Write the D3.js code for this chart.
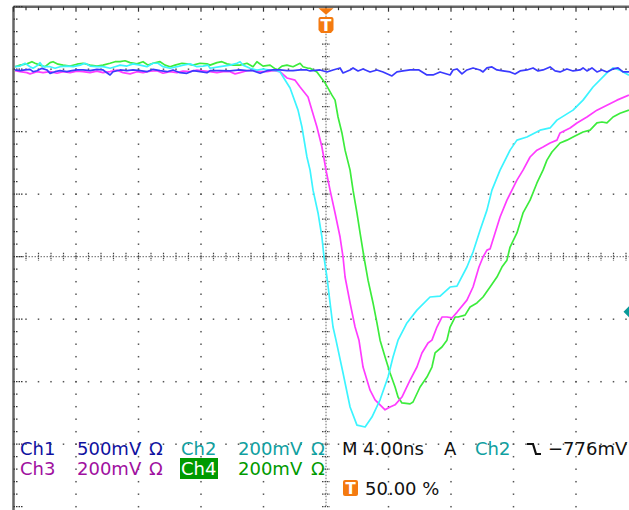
<!DOCTYPE html>
<html>
<head>
<meta charset="utf-8">
<script src="https://cdn.jsdelivr.net/npm/d3@7/dist/d3.min.js"></script>
<style>
  html, body { margin: 0; padding: 0; background: #fff; }
  svg { display: block; }
  text { font-family: "DejaVu Sans", sans-serif; font-size: 18px; }
</style>
</head>
<body>
<svg id="scope" width="629" height="510"></svg>
<script>
// Horizontal: 4 ns/div, 10 divisions, trigger at centre (t = 0)
const timePerDiv = 4;
// Vertical: volts per division for each channel, all traces positioned 3 div above centre
const channelNames = ["Ch1", "Ch2", "Ch3", "Ch4"];
const channelScalesMv = [500, 200, 200, 200];
const channelPositionDiv = 3;
const traceColors = ["#3a3aff", "#3cf4ff", "#ff3cff", "#3cec3c"];
const labelColors = ["#1010a0", "#10a0a0", "#a010a0", "#009a00"];
const triggerLevelMv = -776;

// Samples: [time (ns), voltage (mV)]
const ch1Trace = [[-19.90,-6],[-19.58,-12],[-19.26,-6],[-18.94,-1],[-18.75,-20],[-18.50,-12],[-18.18,7],[-17.86,-6],[-17.66,-33],[-17.34,-20],[-17.02,-12],[-16.58,-20],[-16.26,-12],[-15.94,-6],[-15.55,-6],[-15.10,-12],[-14.66,-1],[-14.27,-6],[-13.82,-46],[-13.63,-20],[-13.18,-6],[-12.74,-12],[-12.35,-6],[-11.90,-12],[-11.46,-20],[-11.07,-1],[-10.62,-12],[-10.18,-20],[-9.79,-6],[-9.34,-28],[-8.90,-33],[-8.51,-12],[-8.06,-20],[-7.62,-28],[-7.42,-12],[-6.78,-12],[-6.14,-14],[-5.50,-6],[-5.06,-12],[-4.67,-12],[-4.22,-33],[-3.78,-12],[-3.39,-6],[-2.94,-6],[-2.50,-12],[-2.11,-12],[-1.66,-6],[-1.22,-6],[-1.02,-14],[-0.38,-6],[0.06,-22],[0.45,-6],[0.90,10],[1.09,-30],[1.54,-6],[1.73,10],[2.05,-14],[2.37,2],[2.82,-22],[3.26,-6],[3.65,-22],[4.22,-54],[4.54,-22],[4.93,-14],[5.38,-6],[5.95,-6],[6.46,-46],[6.85,-46],[7.30,-22],[7.94,-46],[8.13,-6],[8.38,2],[8.70,-38],[9.02,-6],[9.41,10],[9.86,-6],[10.05,-22],[10.30,10],[10.62,18],[10.94,-6],[11.33,-14],[11.78,-22],[12.10,-38],[12.42,-14],[12.86,-6],[13.25,10],[13.57,-14],[13.89,-6],[14.34,18],[14.66,-14],[14.98,-22],[15.42,2],[15.81,-14],[16.26,-6],[16.45,10],[16.70,-14],[17.02,10],[17.34,-22],[17.66,-6],[17.98,-22],[18.37,2],[18.69,10],[19.01,-22],[19.39,-22]];

const ch2Trace = [[-19.90,8],[-19.58,10],[-19.26,19],[-18.94,8],[-18.75,3],[-18.43,13],[-18.30,21],[-18.11,8],[-17.66,8],[-17.34,3],[-17.02,8],[-16.58,10],[-16.19,8],[-15.74,13],[-15.42,19],[-15.10,10],[-14.66,8],[-14.27,8],[-13.82,3],[-13.50,8],[-13.18,13],[-12.74,10],[-12.35,17],[-11.90,13],[-11.46,8],[-11.07,19],[-10.75,19],[-10.43,8],[-9.98,3],[-9.54,8],[-9.15,13],[-8.70,17],[-8.26,8],[-7.87,10],[-7.55,13],[-7.42,3],[-6.78,8],[-6.14,13],[-5.70,19],[-5.50,24],[-5.31,13],[-4.86,3],[-4.42,-3],[-4.03,0],[-3.58,-3],[-3.14,-5],[-2.94,-9],[-2.30,-60],[-1.79,-131],[-1.54,-185],[-1.22,-281],[-1.02,-323],[-0.83,-387],[-0.51,-460],[-0.26,-537],[-0.13,-601],[0.06,-665],[0.26,-748],[0.45,-825],[0.64,-867],[1.09,-972],[1.54,-1081],[1.98,-1139],[2.50,-1145],[2.94,-1113],[3.46,-1058],[3.97,-985],[4.29,-921],[4.61,-867],[5.18,-812],[5.82,-771],[6.66,-729],[7.30,-726],[7.94,-697],[8.38,-694],[9.02,-633],[9.41,-585],[9.86,-515],[10.30,-451],[10.62,-387],[11.14,-323],[11.78,-259],[12.22,-227],[12.86,-217],[13.70,-195],[14.34,-188],[14.78,-163],[15.81,-131],[16.45,-99],[17.09,-57],[17.98,-12],[18.37,4],[18.82,-3],[19.39,-19]];

const ch3Trace = [[-19.90,-5],[-19.58,-8],[-19.14,-11],[-18.94,-15],[-18.50,-8],[-18.11,-11],[-17.66,-8],[-17.22,-13],[-16.83,-8],[-16.38,-11],[-15.94,-6],[-15.55,-8],[-15.10,-11],[-14.66,-6],[-14.27,-11],[-13.82,-8],[-13.38,-3],[-12.99,-11],[-12.54,-15],[-12.10,-8],[-11.71,-11],[-11.26,-6],[-10.82,-5],[-10.43,-13],[-9.98,-8],[-9.54,-11],[-9.15,-6],[-8.70,-8],[-8.26,-3],[-7.87,-5],[-7.42,-8],[-6.98,-11],[-6.59,-8],[-6.14,-8],[-5.82,-15],[-5.50,-11],[-5.06,-5],[-4.67,-3],[-4.22,-8],[-3.78,-8],[-3.39,-5],[-2.94,-8],[-2.50,-28],[-1.98,-35],[-1.66,-57],[-1.15,-89],[-0.90,-131],[-0.58,-185],[-0.26,-249],[0,-323],[0.26,-387],[0.58,-460],[0.90,-537],[1.09,-601],[1.22,-665],[1.54,-748],[1.86,-825],[2.11,-867],[2.37,-953],[2.82,-1027],[3.14,-1058],[3.46,-1074],[3.78,-1090],[4.10,-1081],[4.42,-1074],[4.86,-1049],[5.38,-995],[5.82,-953],[6.14,-908],[6.53,-876],[6.78,-867],[7.10,-825],[7.42,-793],[7.74,-793],[8.06,-796],[8.38,-778],[9.02,-739],[9.41,-697],[9.79,-633],[10.05,-601],[10.30,-579],[10.50,-575],[10.82,-524],[11.14,-473],[11.58,-419],[11.90,-387],[12.22,-355],[12.61,-323],[13.06,-281],[13.50,-259],[13.89,-249],[14.34,-236],[14.78,-227],[14.98,-204],[15.62,-188],[16.06,-172],[16.70,-153],[17.34,-131],[17.98,-115],[18.62,-99],[19.39,-83]];

const ch4Trace = [[-19.90,8],[-19.58,13],[-19.14,17],[-18.82,24],[-18.62,19],[-18.30,13],[-17.98,8],[-17.66,21],[-17.47,24],[-17.15,16],[-16.83,13],[-16.38,10],[-15.94,16],[-15.55,19],[-15.10,13],[-14.66,10],[-14.27,13],[-13.82,19],[-13.50,24],[-13.18,24],[-12.86,27],[-12.54,21],[-12.10,17],[-11.71,24],[-11.39,13],[-11.07,19],[-10.62,24],[-10.30,13],[-9.98,8],[-9.66,13],[-9.22,19],[-8.90,17],[-8.51,13],[-8.06,19],[-7.62,17],[-7.42,13],[-6.98,21],[-6.66,24],[-6.34,17],[-5.95,13],[-5.50,13],[-5.06,19],[-4.67,8],[-4.42,24],[-4.03,10],[-3.58,13],[-3.14,-3],[-2.82,10],[-2.50,13],[-2.11,8],[-1.66,19],[-1.47,8],[-1.15,3],[-1.02,3],[-0.58,-9],[-0.06,-44],[0.38,-83],[0.58,-99],[0.77,-153],[1.02,-204],[1.22,-259],[1.54,-323],[1.73,-387],[1.98,-460],[2.18,-524],[2.43,-601],[2.69,-675],[3.01,-748],[3.26,-812],[3.46,-867],[3.78,-921],[4.10,-972],[4.42,-1017],[4.61,-1049],[4.86,-1068],[5.38,-1071],[5.57,-1065],[6.02,-1017],[6.46,-985],[6.78,-953],[6.98,-908],[7.42,-889],[7.74,-867],[7.94,-825],[8.26,-793],[8.45,-793],[8.90,-787],[9.22,-761],[9.66,-748],[10.05,-729],[10.50,-697],[10.94,-665],[11.26,-633],[11.58,-611],[11.78,-569],[12.22,-524],[12.61,-460],[13.06,-419],[13.50,-364],[13.89,-323],[14.14,-291],[14.46,-265],[14.98,-236],[15.42,-227],[15.81,-217],[16.45,-201],[16.90,-195],[17.34,-172],[17.66,-169],[17.98,-172],[18.37,-153],[18.82,-141],[19.39,-131]];

const traces = [ch1Trace, ch2Trace, ch3Trace, ch4Trace];

// Readout text
const voltsLabels = ["500mV", "200mV", "200mV", "200mV"];
const timebaseLabel = "4.00ns";
const triggerSource = "Ch2";
const triggerLevelLabel = "\u2212776mV";
const triggerPositionLabel = "50.00 %";

// ---- Screen geometry ----
const svg = d3.select("#scope");
const plotLeft = 13.5, plotTop = 6.7, divPx = 62.5;
const plotRight = plotLeft + 10 * divPx, plotBottom = plotTop + 8 * divPx;

const x = d3.scaleLinear().domain([-5 * timePerDiv, 5 * timePerDiv]).range([plotLeft, plotRight]);
const yDiv = d3.scaleLinear().domain([-4, 4]).range([plotBottom, plotTop]);
const yFor = ch => v => yDiv(v / channelScalesMv[ch] + channelPositionDiv);

svg.append("defs").append("clipPath").attr("id", "plotClip")
  .append("rect").attr("x", plotLeft).attr("y", plotTop)
  .attr("width", plotRight - plotLeft).attr("height", plotBottom - plotTop);

// ---- Graticule ----
const grid = svg.append("g");
const minorStep = 0.2; // divisions
const minorsX = d3.range(-5, 5 + 1e-9, minorStep).map(d => +d.toFixed(2));
const minorsY = d3.range(-4, 4 + 1e-9, minorStep).map(d => +d.toFixed(2));
const divX = d => x(d * timePerDiv);

// dotted major lines
for (let i = -4; i <= 4; i++) {
  if (i === 0) continue;
  grid.selectAll(null).data(minorsY).enter().append("rect")
    .attr("x", divX(i) - 0.75).attr("y", d => yDiv(d) - 0.75)
    .attr("width", 1.5).attr("height", 1.5).attr("fill", "#555");
}
for (let j = -3; j <= 3; j++) {
  if (j === 0) continue;
  grid.selectAll(null).data(minorsX).enter().append("rect")
    .attr("x", d => divX(d) - 0.75).attr("y", yDiv(j) - 0.75)
    .attr("width", 1.5).attr("height", 1.5).attr("fill", "#555");
}
// centre crosshair with minor ticks
grid.append("line").attr("x1", plotLeft).attr("x2", plotRight)
  .attr("y1", yDiv(0)).attr("y2", yDiv(0))
  .attr("stroke", "#666").attr("stroke-width", 1).attr("stroke-dasharray", "1.5,1.5");
grid.append("line").attr("x1", divX(0)).attr("x2", divX(0))
  .attr("y1", plotTop).attr("y2", plotBottom)
  .attr("stroke", "#666").attr("stroke-width", 1).attr("stroke-dasharray", "1.5,1.5");
grid.selectAll(null).data(minorsX).enter().append("line")
  .attr("x1", d => divX(d)).attr("x2", d => divX(d))
  .attr("y1", yDiv(0) - 4).attr("y2", yDiv(0) + 4)
  .attr("stroke", "#444").attr("stroke-width", 1.2).attr("stroke-dasharray", "1.5,1");
grid.selectAll(null).data(minorsY).enter().append("line")
  .attr("y1", d => yDiv(d)).attr("y2", d => yDiv(d))
  .attr("x1", divX(0) - 4).attr("x2", divX(0) + 4)
  .attr("stroke", "#444").attr("stroke-width", 1.2).attr("stroke-dasharray", "1.5,1");

// frame with edge ticks
grid.append("line").attr("x1", plotLeft).attr("x2", plotRight + 5)
  .attr("y1", plotTop).attr("y2", plotTop).attr("stroke", "#666").attr("stroke-width", 2.5);
grid.append("line").attr("x1", plotLeft).attr("x2", plotLeft)
  .attr("y1", plotTop).attr("y2", plotBottom + 5).attr("stroke", "#666").attr("stroke-width", 2.5);
grid.selectAll(null).data(minorsX).enter().append("line")
  .attr("x1", d => divX(d)).attr("x2", d => divX(d))
  .attr("y1", plotTop).attr("y2", d => plotTop + (Math.abs(d - Math.round(d)) < 1e-6 ? 5 : 3.5))
  .attr("stroke", "#333").attr("stroke-width", 1.2);
grid.selectAll(null).data(minorsY).enter().append("line")
  .attr("y1", d => yDiv(d)).attr("y2", d => yDiv(d))
  .attr("x1", plotLeft).attr("x2", d => plotLeft + (Math.abs(d - Math.round(d)) < 1e-6 ? 9 : 5))
  .attr("stroke", "#333").attr("stroke-width", 1.2).attr("stroke-dasharray", "1.5,1");

// ---- Waveforms ----
const traceLayer = svg.append("g").attr("clip-path", "url(#plotClip)");
[3, 2, 1, 0].forEach(ch => {
  const line = d3.line().x(d => x(d[0])).y(d => yFor(ch)(d[1]));
  traceLayer.append("path").datum(traces[ch])
    .attr("d", line).attr("fill", "none")
    .attr("stroke", traceColors[ch]).attr("stroke-width", 1.7)
    .attr("stroke-linejoin", "round");
});

// ---- Trigger position marker (top) ----
const tx = x(0);
const orange = "#f47a10";
svg.append("path")
  .attr("d", `M${tx - 7.5},${plotTop + 1.5} L${tx + 7.5},${plotTop + 1.5} L${tx},${plotTop + 8} Z`)
  .attr("fill", orange);
svg.append("path")
  .attr("d", `M${tx - 7.5},${19} Q${tx - 7.5},${17} ${tx - 5.5},${17} L${tx + 5.5},${17} Q${tx + 7.5},${17} ${tx + 7.5},${19} L${tx + 7.5},${30} L${tx + 5},${33} L${tx - 5},${33} L${tx - 7.5},${30} Z`)
  .attr("fill", orange);
svg.append("text").attr("x", tx).attr("y", 31).attr("text-anchor", "middle")
  .attr("fill", "#fff").style("font-weight", "bold").style("font-size", "16px").text("T");

// ---- Trigger level marker (right edge) ----
const ty = yFor(1)(triggerLevelMv);
svg.append("path")
  .attr("d", `M${plotRight - 15},${ty} L${plotRight - 9},${ty - 6} L${plotRight - 3},${ty} L${plotRight - 9},${ty + 6} Z`)
  .attr("fill", "#0a9a9a");

// ---- Readouts ----
const row1 = 455, row2 = 475, row3 = 495;
const t = svg.append("g");
function label(xp, yp, s, color) {
  return t.append("text").attr("x", xp).attr("y", yp).attr("fill", color).text(s);
}
label(20, row1, channelNames[0], labelColors[0]);
label(77, row1, voltsLabels[0], labelColors[0]);
label(149, row1, "\u03A9", labelColors[0]);
label(181, row1, channelNames[1], labelColors[1]);
label(238, row1, voltsLabels[1], labelColors[1]);
label(311, row1, "\u03A9", labelColors[1]);

label(20, row2, channelNames[2], labelColors[2]);
label(77, row2, voltsLabels[2], labelColors[2]);
label(149, row2, "\u03A9", labelColors[2]);
t.append("rect").attr("x", 180).attr("y", 458).attr("width", 38).attr("height", 21).attr("fill", labelColors[3]);
label(181, row2, channelNames[3], "#fff");
label(238, row2, voltsLabels[3], labelColors[3]);
label(311, row2, "\u03A9", labelColors[3]);

label(342, row1, "M", "#111");
label(363, row1, timebaseLabel, "#111");
label(444, row1, "A", "#111");
label(475, row1, triggerSource, labelColors[1]);
t.append("path").attr("d", "M527,444 H533 L536,454 H541")
  .attr("fill", "none").attr("stroke", "#111").attr("stroke-width", 2.2);
label(548, row1, triggerLevelLabel, "#111");

t.append("rect").attr("x", 343).attr("y", 480).attr("width", 15).attr("height", 16).attr("rx", 2).attr("fill", orange);
t.append("text").attr("x", 350.5).attr("y", 494).attr("text-anchor", "middle")
  .attr("fill", "#fff").style("font-weight", "bold").style("font-size", "15px").text("T");
label(365, row3, triggerPositionLabel, "#111");
</script>
</body>
</html>
